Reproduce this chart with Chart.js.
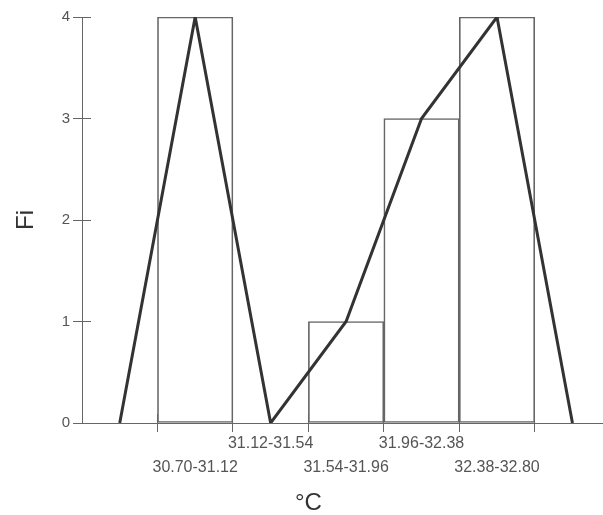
<!DOCTYPE html>
<html>
<head>
<meta charset="utf-8">
<script src="https://cdn.jsdelivr.net/npm/chart.js@4"></script>
<style>
  body { margin: 0; background: #fff; }
  #wrap { width: 603px; height: 515px; }
</style>
</head>
<body>
<div id="wrap"><canvas id="histo"></canvas></div>
<script>
// clases de temperatura y frecuencias absolutas
const binLabels = ['30.70-31.12', '31.12-31.54', '31.54-31.96', '31.96-32.38', '32.38-32.80'];
const binEdges = [30.70, 31.12, 31.54, 31.96, 32.38, 32.80];
const binMids = [30.91, 31.33, 31.75, 32.17, 32.59];
const frequencies = [4, 0, 1, 3, 4];

// poligono de frecuencias (con una marca de clase vacia a cada lado)
const polygonX = [30.49, 30.91, 31.33, 31.75, 32.17, 32.59, 33.01];
const polygonY = [0, 4, 0, 1, 3, 4, 0];

const yTicks = [0, 1, 2, 3, 4];
const xMin = 30.28;
const xMax = 33.18;

Chart.defaults.font.family = "Arial, 'Liberation Sans', sans-serif";

// marcas de los ejes hacia dentro + titulo del eje x
const extras = {
    id: 'extras',
    afterDraw(chart) {
        const { ctx, scales: { x, y } } = chart;
        const align = p => Math.round(p - 0.5) + 0.5;
        ctx.save();
        ctx.strokeStyle = '#666';
        ctx.lineWidth = 1;
        ctx.beginPath();
        binEdges.forEach(v => {
            const px = align(x.getPixelForValue(v));
            ctx.moveTo(px, x.top - 9);
            ctx.lineTo(px, x.top);
        });
        yTicks.forEach(v => {
            const py = align(y.getPixelForValue(v));
            ctx.moveTo(y.right, py);
            ctx.lineTo(y.right + 9, py);
        });
        ctx.stroke();

        ctx.fillStyle = '#333';
        ctx.font = "24px Arial, 'Liberation Sans', sans-serif";
        ctx.textAlign = 'center';
        ctx.textBaseline = 'middle';
        const cx = (x.getPixelForValue(xMin) + x.getPixelForValue(binEdges[binEdges.length - 1])) / 2;
        ctx.fillText('°C', cx, 503);
        ctx.restore();
    }
};

new Chart(document.getElementById('histo'), {
    type: 'bar',
    data: {
        datasets: [
            {
                type: 'line',
                data: polygonX.map((v, i) => ({ x: v, y: polygonY[i] })),
                borderColor: '#333',
                borderWidth: 3,
                borderJoinStyle: 'miter',
                pointRadius: 0,
                tension: 0,
                fill: false,
                order: 0
            },
            {
                type: 'bar',
                data: binMids.map((v, i) => ({ x: v, y: frequencies[i] })),
                backgroundColor: 'rgba(0,0,0,0)',
                borderColor: '#666',
                borderWidth: 1,
                borderSkipped: false,
                barPercentage: 1,
                categoryPercentage: 1,
                order: 1
            }
        ]
    },
    options: {
        responsive: true,
        maintainAspectRatio: false,
        animation: false,
        layout: { padding: { top: 17, right: 0, bottom: 0, left: 0 } },
        plugins: {
            legend: { display: false },
            tooltip: { enabled: false }
        },
        scales: {
            x: {
                type: 'linear',
                min: xMin,
                max: xMax,
                offset: false,
                afterBuildTicks: axis => {
                    axis.ticks = binMids.map(v => ({ value: v }));
                },
                afterFit: axis => { axis.height = 92; },
                grid: {
                    offset: true,
                    drawOnChartArea: false,
                    tickLength: 9,
                    color: '#666'
                },
                border: { color: '#666' },
                ticks: {
                    autoSkip: false,
                    maxRotation: 0,
                    minRotation: 0,
                    padding: 0,
                    color: '#555',
                    font: { size: 16, lineHeight: '24px' },
                    callback: (value, index) => index % 2 === 0 ? ['', binLabels[index]] : [binLabels[index]]
                }
            },
            y: {
                min: 0,
                max: 4,
                afterBuildTicks: axis => {
                    axis.ticks = yTicks.map(v => ({ value: v }));
                },
                afterFit: axis => { axis.width = 82; },
                grid: {
                    drawOnChartArea: false,
                    tickLength: 9,
                    color: '#666'
                },
                border: { color: '#666' },
                ticks: {
                    padding: 3,
                    color: '#555',
                    font: { size: 15 }
                },
                title: {
                    display: true,
                    text: 'Fi',
                    color: '#333',
                    font: { size: 24 },
                    padding: { top: 12, bottom: 0 }
                }
            }
        }
    },
    plugins: [extras]
});
</script>
</body>
</html>
